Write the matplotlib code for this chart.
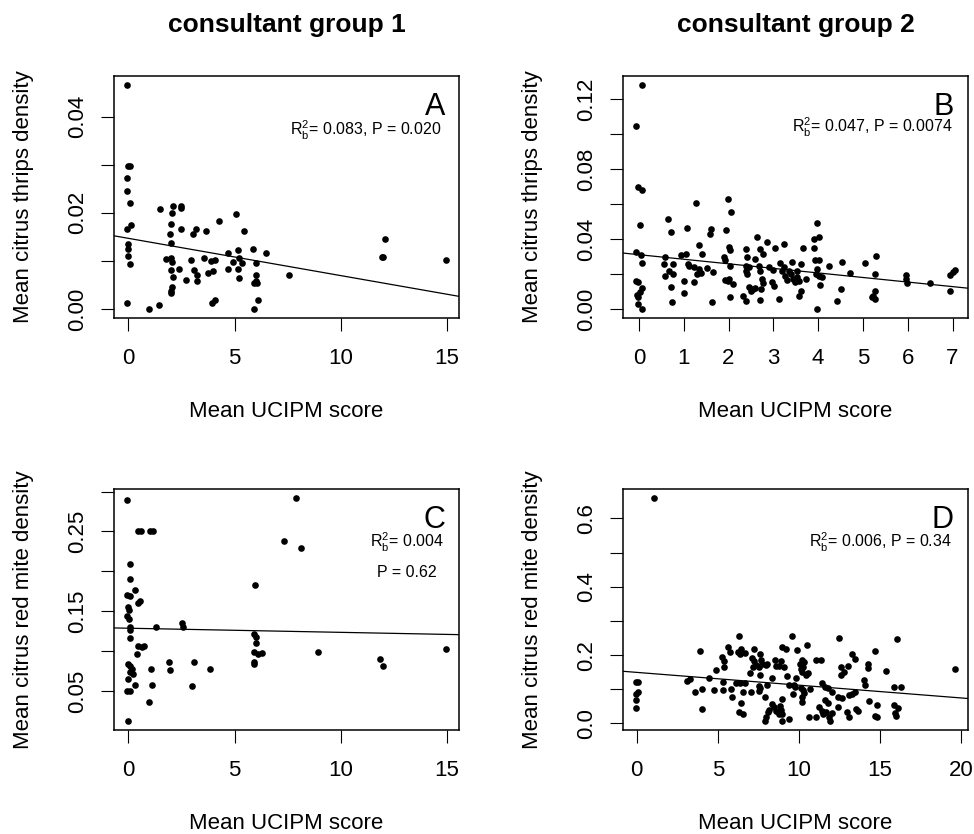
import numpy as np
import matplotlib
matplotlib.use("Agg")
from matplotlib import pyplot as plt

plt.rcParams["font.family"] = ["Liberation Sans", "DejaVu Sans"]
plt.rcParams["mathtext.fontset"] = "custom"
plt.rcParams["mathtext.rm"] = "Liberation Sans"
plt.rcParams["mathtext.it"] = "Liberation Sans:italic"

# panel A: consultant group 1, citrus thrips
a_x = [-0.08, 0.00, 0.08, -0.05, -0.06, 0.05, -0.08, 0.13, -0.03, 0.00, 0.00, 0.08, -0.05,
       0.97, 1.42, 1.48, 2.10, 2.07, 2.48, 2.48, 2.00, 1.98, 2.01, 1.75, 2.00, 2.04, 2.01,
       2.12, 2.04, 2.01, 2.01, 2.39, 2.48, 2.72, 2.96, 3.03, 3.16, 3.11, 3.25, 3.22, 3.66,
       3.58, 3.74, 3.90, 4.06, 3.98, 3.96, 4.09, 4.28, 4.69, 4.69, 4.92, 5.06, 5.16, 5.22,
       5.35, 5.14, 5.22, 5.46, 5.85, 6.00, 6.00, 6.00, 6.05, 5.90, 6.09, 5.93, 6.48, 7.59,
       11.95, 12.00, 12.08, 14.98]
a_y = [0.0466, 0.0298, 0.0297, 0.0273, 0.0246, 0.0221, 0.0167, 0.0175, 0.0136, 0.0125, 0.0111,
       0.0094, 0.0013, 0.0000, 0.0009, 0.0209, 0.0214, 0.0200, 0.0214, 0.0210, 0.0177, 0.0157,
       0.0137, 0.0104, 0.0106, 0.0097, 0.0081, 0.0066, 0.0045, 0.0038, 0.0033, 0.0083, 0.0167,
       0.0061, 0.0101, 0.0157, 0.0166, 0.0081, 0.0070, 0.0058, 0.0162, 0.0106, 0.0075, 0.0099,
       0.0102, 0.0079, 0.0012, 0.0019, 0.0184, 0.0116, 0.0083, 0.0097, 0.0197, 0.0123, 0.0106,
       0.0096, 0.0083, 0.0065, 0.0163, 0.0124, 0.0095, 0.0070, 0.0059, 0.0054, 0.0054, 0.0019,
       0.0000, 0.0116, 0.0071, 0.0109, 0.0108, 0.0146, 0.0101]

# panel B: consultant group 2, citrus thrips
b_x = [0.07, -0.07, -0.01, 0.07, 0.03, -0.06, 0.04, 0.07, -0.06, -0.03, 0.07, 0.03, -0.05, -0.03,
       -0.01, 0.06, 0.64, 0.72, 0.59, 0.57, 0.59, 0.68, 0.77, 0.76, 0.71, 0.74, 0.94, 1.05,
       1.07, 1.09, 1.12, 1.01, 1.24, 1.00, 1.28, 1.33, 1.40, 1.24, 1.33, 1.39, 1.30, 1.53,
       1.65, 1.61, 1.59, 1.63, 1.98, 2.06, 1.95, 1.89, 1.93, 2.00, 2.03, 2.03, 1.93, 1.98,
       2.01, 2.09, 2.03, 2.32, 2.40, 2.39, 2.41, 2.38, 2.41, 2.45, 2.39, 2.46, 2.50, 2.54,
       2.58, 2.60, 2.63, 2.70, 2.76, 2.69, 2.70, 2.75, 2.78, 2.72, 2.70, 2.87, 3.04, 2.91,
       3.00, 2.97, 3.02, 3.12, 3.16, 3.20, 3.24, 3.23, 3.27, 3.31, 3.34, 3.41, 3.40, 3.45,
       3.48, 3.53, 3.52, 3.62, 3.58, 3.62, 3.58, 3.67, 3.73, 3.90, 3.90, 3.98, 4.03, 3.94,
       4.03, 3.98, 3.95, 4.01, 4.08, 4.04, 3.98, 4.25, 4.53, 4.50, 4.42, 4.71, 5.05, 5.29,
       5.28, 5.28, 5.22, 5.28, 5.20, 5.96, 5.96, 5.99, 6.50, 6.95, 6.95, 7.00, 7.06]
b_y = [0.1282, 0.1047, 0.0699, 0.0679, 0.0478, 0.0329, 0.0310, 0.0262, 0.0163, 0.0153, 0.0121,
       0.0096, 0.0080, 0.0071, 0.0029, 0.0000, 0.0513, 0.0438, 0.0297, 0.0258, 0.0191, 0.0216,
       0.0201, 0.0258, 0.0124, 0.0038, 0.0310, 0.0316, 0.0463, 0.0258, 0.0249, 0.0163, 0.0153,
       0.0092, 0.0607, 0.0364, 0.0316, 0.0239, 0.0230, 0.0207, 0.0201, 0.0233, 0.0211, 0.0459,
       0.0431, 0.0038, 0.0632, 0.0555, 0.0455, 0.0297, 0.0278, 0.0354, 0.0335, 0.0245, 0.0167,
       0.0159, 0.0172, 0.0144, 0.0067, 0.0077, 0.0044, 0.0341, 0.0297, 0.0249, 0.0201, 0.0239,
       0.0216, 0.0124, 0.0105, 0.0115, 0.0119, 0.0287, 0.0411, 0.0341, 0.0316, 0.0249, 0.0220,
       0.0172, 0.0147, 0.0113, 0.0054, 0.0383, 0.0350, 0.0243, 0.0224, 0.0153, 0.0130, 0.0059,
       0.0266, 0.0216, 0.0373, 0.0239, 0.0191, 0.0167, 0.0220, 0.0268, 0.0201, 0.0172, 0.0153,
       0.0182, 0.0220, 0.0255, 0.0159, 0.0105, 0.0077, 0.0350, 0.0172, 0.0402, 0.0348, 0.0494,
       0.0415, 0.0283, 0.0278, 0.0230, 0.0201, 0.0191, 0.0186, 0.0138, 0.0000, 0.0249, 0.0268,
       0.0115, 0.0048, 0.0207, 0.0266, 0.0306, 0.0201, 0.0105, 0.0077, 0.0057, 0.0067, 0.0195,
       0.0172, 0.0147, 0.0149, 0.0105, 0.0195, 0.0211, 0.0224]

# panel C: consultant group 1, citrus red mite
c_x = [-0.05, 0.44, 0.58, 1.02, 1.15, 0.08, 0.08, 0.31, -0.08, 0.08, 0.44, 0.52, -0.03, 0.02,
       -0.08, 0.02, 0.05, 0.09, 0.08, 0.39, 0.47, 0.63, 0.71, 0.00, 0.08, 0.16, 0.08, 0.20,
       -0.03, -0.08, 0.08, 0.31, -0.03, 0.99, 1.04, 1.13, 1.31, 1.89, 1.98, 2.52, 2.58, 2.99,
       3.11, 3.85, 5.97, 5.93, 6.00, 6.02, 5.93, 6.09, 6.29, 5.90, 5.94, 7.34, 7.91, 8.13,
       8.92, 11.84, 12.00, 14.98]
c_y = [0.290, 0.250, 0.250, 0.250, 0.250, 0.209, 0.190, 0.177, 0.170, 0.169, 0.161, 0.163,
       0.155, 0.151, 0.144, 0.140, 0.130, 0.127, 0.117, 0.097, 0.106, 0.105, 0.106, 0.084,
       0.081, 0.078, 0.074, 0.071, 0.065, 0.050, 0.050, 0.058, 0.0125, 0.037, 0.078, 0.058,
       0.130, 0.087, 0.077, 0.135, 0.130, 0.057, 0.087, 0.078, 0.183, 0.121, 0.118, 0.110,
       0.099, 0.096, 0.098, 0.087, 0.084, 0.238, 0.292, 0.229, 0.099, 0.090, 0.082, 0.103]

# panel D: consultant group 2, citrus red mite
d_x = [1.09, -0.06, 0.08, 0.09, -0.06, -0.06, -0.02, 3.13, 3.28, 3.61, 3.92, 4.04, 4.04, 4.45,
       4.76, 4.89, 5.28, 5.38, 5.40, 5.32, 5.34, 5.61, 5.73, 5.90, 5.81, 6.14, 6.35, 6.27,
       6.35, 6.43, 6.68, 6.31, 6.41, 6.31, 6.56, 6.58, 6.68, 6.99, 7.03, 7.24, 7.13, 7.24,
       7.34, 7.20, 7.59, 7.65, 7.55, 7.75, 7.59, 7.55, 7.55, 7.59, 7.96, 8.06, 8.02, 7.92,
       7.90, 8.00, 8.16, 8.08, 8.33, 8.37, 8.52, 8.62, 8.78, 8.47, 8.62, 8.78, 8.91, 8.95,
       9.20, 9.07, 8.99, 8.85, 8.93, 8.99, 8.95, 9.40, 9.28, 9.40, 9.57, 9.65, 9.71, 9.77,
       9.81, 9.86, 10.14, 10.27, 10.06, 10.19, 10.31, 10.19, 10.12, 10.19, 10.19, 10.33, 10.23,
       10.52, 10.43, 10.54, 10.70, 10.64, 11.05, 11.05, 11.36, 11.42, 11.59, 11.79, 12.04,
       11.63, 11.77, 11.26, 11.42, 11.50, 11.67, 11.84, 11.92, 12.02, 12.39, 12.49, 12.43,
       12.64, 12.60, 12.76, 12.60, 13.01, 12.97, 13.07, 13.11, 13.26, 13.48, 13.28, 13.46,
       13.53, 13.63, 14.04, 14.10, 14.29, 14.29, 14.35, 14.72, 14.82, 14.70, 14.82, 15.38,
       16.04, 15.86, 16.31, 15.86, 16.10, 15.94, 16.02, 19.65]
d_y = [0.660, 0.120, 0.120, 0.093, 0.085, 0.070, 0.044, 0.124, 0.129, 0.093, 0.211, 0.100,
       0.041, 0.134, 0.097, 0.156, 0.195, 0.183, 0.166, 0.122, 0.099, 0.224, 0.209, 0.078,
       0.100, 0.119, 0.117, 0.210, 0.203, 0.219, 0.205, 0.255, 0.061, 0.034, 0.027, 0.093,
       0.119, 0.149, 0.093, 0.217, 0.193, 0.183, 0.170, 0.166, 0.202, 0.185, 0.166, 0.175,
       0.143, 0.109, 0.095, 0.104, 0.172, 0.175, 0.112, 0.076, 0.008, 0.020, 0.039, 0.034,
       0.133, 0.058, 0.187, 0.169, 0.168, 0.049, 0.037, 0.027, 0.183, 0.224, 0.219, 0.166,
       0.073, 0.051, 0.039, 0.029, 0.007, 0.012, 0.138, 0.112, 0.256, 0.086, 0.112, 0.107,
       0.133, 0.214, 0.159, 0.166, 0.175, 0.185, 0.180, 0.151, 0.105, 0.078, 0.063, 0.090,
       0.097, 0.231, 0.141, 0.148, 0.100, 0.020, 0.020, 0.187, 0.187, 0.119, 0.107, 0.105,
       0.093, 0.070, 0.061, 0.047, 0.037, 0.027, 0.034, 0.020, 0.008, 0.031, 0.047, 0.250,
       0.078, 0.075, 0.166, 0.151, 0.143, 0.168, 0.034, 0.020, 0.083, 0.086, 0.093, 0.202,
       0.188, 0.042, 0.037, 0.127, 0.114, 0.173, 0.163, 0.066, 0.212, 0.054, 0.022, 0.020,
       0.153, 0.248, 0.107, 0.107, 0.054, 0.046, 0.031, 0.021, 0.158]

# fitted lines (intercept, slope) as drawn in the figure
fit_intercept = [0.0147, 0.0311, 0.1288, 0.1495]
fit_slope = [-0.000774, -0.00261, -0.000516, -0.00374]

panel_letters = ["A", "B", "C", "D"]
stats_text = [r"R$_\mathrm{b}^\mathrm{2}$= 0.083, P = 0.020",
              r"R$_\mathrm{b}^\mathrm{2}$= 0.047, P = 0.0074",
              r"R$_\mathrm{b}^\mathrm{2}$= 0.004",
              r"R$_\mathrm{b}^\mathrm{2}$= 0.006, P = 0.34"]
y_labels = ["Mean citrus thrips density", "Mean citrus thrips density",
            "Mean citrus red mite density", "Mean citrus red mite density"]
group_titles = ["consultant group 1", "consultant group 2"]

x_ticks = [[0, 5, 10, 15], list(range(8)), [0, 5, 10, 15], [0, 5, 10, 15, 20]]
y_ticks = [[0.0, 0.01, 0.02, 0.03, 0.04],
           [0.0, 0.02, 0.04, 0.06, 0.08, 0.10, 0.12],
           [0.05, 0.10, 0.15, 0.20, 0.25, 0.30],
           [0.0, 0.1, 0.2, 0.3, 0.4, 0.5, 0.6]]
y_ticklabels = [["0.00", "", "0.02", "", "0.04"],
                ["0.00", "", "0.04", "", "0.08", "", "0.12"],
                ["0.05", "", "0.15", "", "0.25", ""],
                ["0.0", "", "0.2", "", "0.4", "", "0.6"]]

W, H = 974, 834
# axes boxes in pixels: left, top, right, bottom
boxes = [(114, 76, 459, 318), (623, 76, 968, 318),
         (114, 489, 459, 730), (623, 489, 968, 730)]


def r_limits(values):
    lo, hi = min(values), max(values)
    pad = 0.04 * (hi - lo)
    return lo - pad, hi + pad


fig = plt.figure(figsize=(W / 100, H / 100), dpi=100)

data = [(a_x, a_y), (b_x, b_y), (c_x, c_y), (d_x, d_y)]
for i, (xs, ys) in enumerate(data):
    left, top, right, bottom = boxes[i]
    ax = fig.add_axes([left / W, 1 - bottom / H, (right - left) / W, (bottom - top) / H])
    ax.scatter(xs, ys, s=23, color="black", linewidths=0, zorder=3)
    ax.axline((0, fit_intercept[i]), slope=fit_slope[i], color="black", lw=0.9)
    ax.set_xlim(r_limits(xs))
    ax.set_ylim(r_limits(ys))

    ax.set_xticks(x_ticks[i])
    ax.set_xticklabels([str(t) for t in x_ticks[i]])
    ax.set_yticks(y_ticks[i])
    ax.set_yticklabels(y_ticklabels[i], rotation=90, va="center")
    ax.tick_params(axis="both", direction="out", length=9.3, width=0.8, labelsize=16)
    ax.tick_params(axis="x", pad=12.5)
    ax.tick_params(axis="y", pad=9.5)
    for sp in ax.spines.values():
        sp.set_linewidth(1.1)

    ax.set_xlabel("Mean UCIPM score", fontsize=16, va="top")
    ax.xaxis.set_label_coords(0.5, -83 / (bottom - top))
    ax.set_ylabel(y_labels[i], fontsize=16)
    ax.yaxis.set_label_coords(-80 / (right - left), 0.5)

    ax.text(1 - 14 / (right - left), 1 - 39 / (bottom - top), panel_letters[i],
            transform=ax.transAxes, ha="right", va="baseline", fontsize=22)

stat_pos = [(0.729, 0.756), (0.723, 0.765), (0.849, 0.757), (0.745, 0.757)]
for i, (sx, sy) in enumerate(stat_pos):
    fig.axes[i].text(sx, sy, stats_text[i], transform=fig.axes[i].transAxes,
                     ha="center", va="baseline", fontsize=11.5)
fig.axes[2].text(0.849, 0.635, "P = 0.62", transform=fig.axes[2].transAxes,
                 ha="center", va="baseline", fontsize=11.5)

for k, title in enumerate(group_titles):
    left, top, right, bottom = boxes[k]
    fig.text((left + right) / 2 / W, 1 - 32 / H, title, ha="center", va="baseline",
             fontsize=19, fontweight="bold")

fig.savefig("out.png", dpi=100, facecolor="white")
